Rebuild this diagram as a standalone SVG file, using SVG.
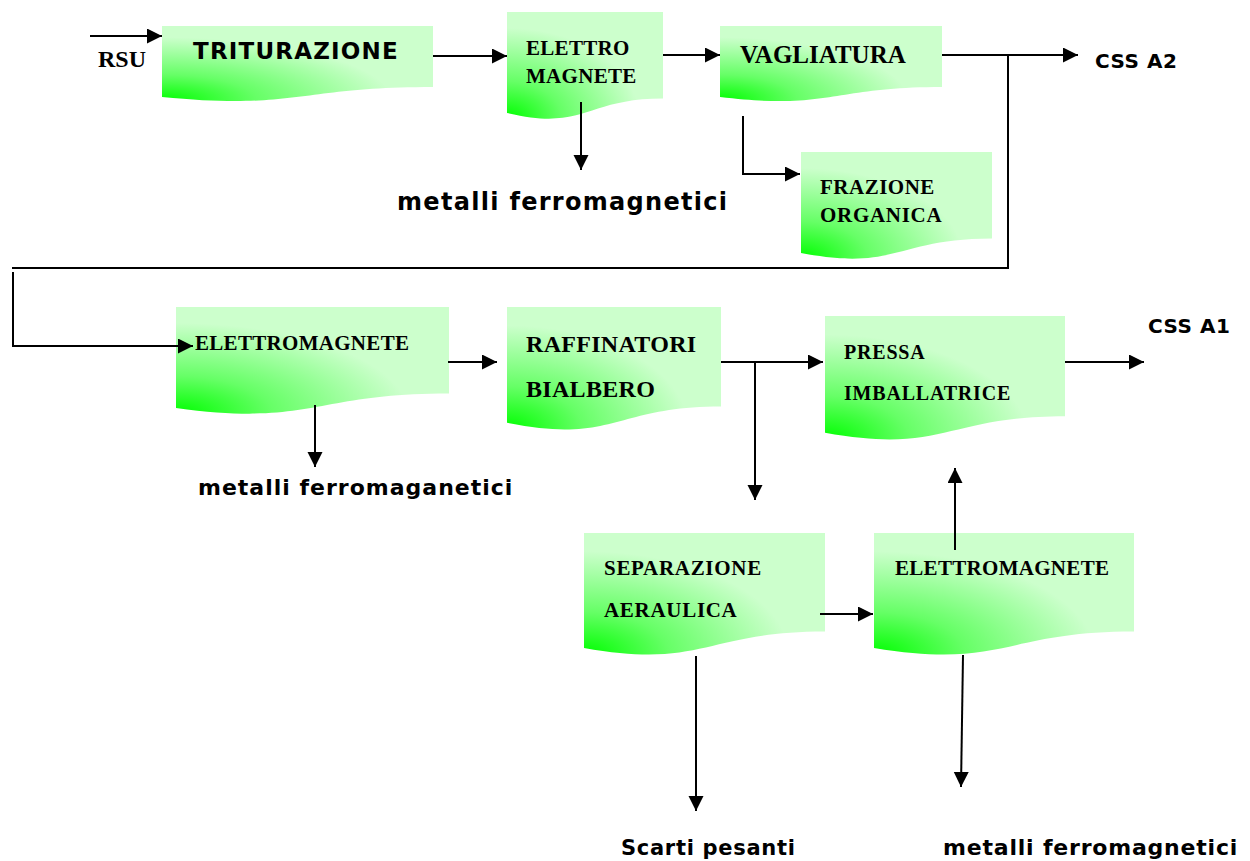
<svg xmlns="http://www.w3.org/2000/svg" width="1250" height="861" viewBox="0 0 1250 861">
<defs>
<radialGradient id="g" cx="0" cy="1" r="1" fx="0" fy="1">
<stop offset="0" stop-color="#00ff00"/>
<stop offset="0.35" stop-color="#66ff66"/>
<stop offset="0.85" stop-color="#ccffcc"/>
<stop offset="1" stop-color="#ccffcc"/>
</radialGradient>
<marker id="ah" markerUnits="userSpaceOnUse" markerWidth="16" markerHeight="16" refX="15" refY="7.5" orient="auto">
<path d="M0,0 L15,7.5 L0,15 Z" fill="#000"/>
</marker>
</defs>
<style>
.doc{fill:url(#g);stroke:none}
.serif{font-family:"Liberation Serif","Times New Roman",serif;font-weight:bold;fill:#000}
.sans{font-family:"DejaVu Sans",Verdana,sans-serif;font-weight:bold;fill:#000}
.ln{fill:none;stroke:#000;stroke-width:2}
.ar{fill:none;stroke:#000;stroke-width:2;marker-end:url(#ah)}
</style>
<rect width="1250" height="861" fill="#fff"/>

<g id="n-triturazione">
<path class="doc" d="M162,26 H433 V87 C297.5,87 297.5,110.2 162,97 Z"/>
<text class="sans" x="193" y="59" font-size="23" letter-spacing="1.2">TRITURAZIONE</text>
</g>
<g id="n-elettro">
<path class="doc" d="M507,12 H663 V98.6 C585,98.6 585,131.6 507,112.9 Z"/>
<text class="serif" x="526" y="55" font-size="21" letter-spacing="0.3">ELETTRO</text>
<text class="serif" x="526" y="83" font-size="21" letter-spacing="0.3">MAGNETE</text>
</g>
<g id="n-vagliatura">
<path class="doc" d="M720,26 H942 V87 C831,87 831,110.2 720,97 Z"/>
<text class="serif" x="740" y="63" font-size="25">VAGLIATURA</text>
</g>
<g id="n-frazione">
<path class="doc" d="M801,152 H992 V238.6 C896.5,238.6 896.5,271.6 801,252.9 Z"/>
<text class="serif" x="820" y="194" font-size="21" letter-spacing="0.5">FRAZIONE</text>
<text class="serif" x="820" y="222" font-size="21" letter-spacing="0.7">ORGANICA</text>
</g>
<g id="n-elettromagnete1">
<path class="doc" d="M176,307 H449 V393.6 C312.5,393.6 312.5,426.6 176,407.9 Z"/>
<text class="serif" x="195" y="350" font-size="21" letter-spacing="0.3">ELETTROMAGNETE</text>
</g>
<g id="n-raffinatori">
<path class="doc" d="M507,307 H721 V406.4 C614,406.4 614,444.3 507,422.8 Z"/>
<text class="serif" x="526" y="352" font-size="24" letter-spacing="0.3">RAFFINATORI</text>
<text class="serif" x="526" y="397" font-size="24" letter-spacing="0.3">BIALBERO</text>
</g>
<g id="n-pressa">
<path class="doc" d="M825,316 H1065 V416.3 C945,416.3 945,454.4 825,432.8 Z"/>
<text class="serif" x="844" y="359" font-size="20" letter-spacing="0.8">PRESSA</text>
<text class="serif" x="844" y="400" font-size="20" letter-spacing="0.8">IMBALLATRICE</text>
</g>
<g id="n-separazione">
<path class="doc" d="M584,533 H825 V631.6 C704.5,631.6 704.5,669.2 584,647.9 Z"/>
<text class="serif" x="604" y="575" font-size="21" letter-spacing="0.7">SEPARAZIONE</text>
<text class="serif" x="604" y="617" font-size="21" letter-spacing="0.7">AERAULICA</text>
</g>
<g id="n-elettromagnete2">
<path class="doc" d="M874,533 H1134 V631.6 C1004,631.6 1004,669.2 874,647.9 Z"/>
<text class="serif" x="895" y="575" font-size="21" letter-spacing="0.3">ELETTROMAGNETE</text>
</g>

<g id="labels">
<text class="serif" x="98" y="67" font-size="24">RSU</text>
<text class="sans" x="1095" y="68" font-size="20" letter-spacing="0.5">CSS A2</text>
<text class="sans" x="1148" y="333" font-size="20" letter-spacing="0.5">CSS A1</text>
<text class="sans" x="397" y="210" font-size="24" letter-spacing="1.3">metalli ferromagnetici</text>
<text class="sans" x="198" y="495" font-size="22" letter-spacing="1">metalli ferromaganetici</text>
<text class="sans" x="621" y="855" font-size="21" letter-spacing="0.7">Scarti pesanti</text>
<text class="sans" x="943" y="855" font-size="22" letter-spacing="0.8">metalli ferromagnetici</text>
</g>

<g id="connectors">
<path class="ar" d="M90,36 H162"/>
<path class="ar" d="M433,56 H507"/>
<path class="ar" d="M663,55 H720"/>
<path class="ar" d="M942,55 H1078"/>
<path class="ln" d="M1008,55 V268 H12"/>
<path class="ar" d="M13,272 V346 H193"/>
<path class="ar" d="M581,102 V170"/>
<path class="ar" d="M743,116 V174 H800"/>
<path class="ar" d="M315,405 V467"/>
<path class="ar" d="M448,362 H497"/>
<path class="ar" d="M721,362 H823"/>
<path class="ar" d="M755,362 V500"/>
<path class="ar" d="M1065,362 H1144"/>
<path class="ar" d="M820,614 H873"/>
<path class="ar" d="M955,550 V468"/>
<path class="ar" d="M696,656 V811"/>
<path class="ar" d="M963,655 L961,787"/>
</g>
</svg>
